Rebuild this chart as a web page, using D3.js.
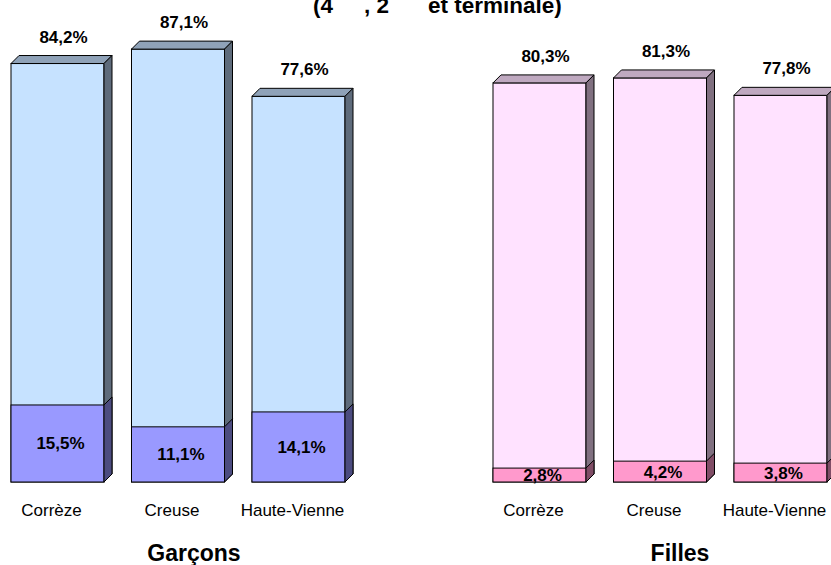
<!DOCTYPE html>
<html>
<head>
<meta charset="utf-8">
<script src="https://cdn.jsdelivr.net/npm/d3@7"></script>
<style>
  html, body { margin: 0; padding: 0; background: #fff; }
  svg { display: block; font-family: Arial, "Liberation Sans", sans-serif; }
</style>
</head>
<body>
<svg id="chart" width="831" height="565"></svg>
<script>
const categories = ["Corrèze", "Creuse", "Haute-Vienne"];
const garconsTotal = [84.2, 87.1, 77.6];
const garconsPart = [15.5, 11.1, 14.1];
const fillesTotal = [80.3, 81.3, 77.8];
const fillesPart = [2.8, 4.2, 3.8];
const panelTitles = ["Garçons", "Filles"];
const titleParts = ["(4", ", 2", "et terminale)"];

const fmt = v => d3.format(".1f")(v).replace(".", ",") + "%";

const svg = d3.select("#chart");
const baseY = 482;
const y = d3.scaleLinear().domain([0, 100]).range([baseY, -15]);
const DX = 8, DY = 8;

// title (partially cut off at the top, as in the reference)
const t = svg.append("text").attr("y", 13).attr("font-size", 22.5).attr("font-weight", "bold").attr("fill", "#000");
const titleX = [313, 364, 428];
titleParts.forEach((p, i) => t.append("tspan").attr("x", titleX[i]).text(p));

const panels = [
  { title: panelTitles[0], total: garconsTotal, part: garconsPart, range: [11, 345], titleX: 194,
    c: { front: "#C6E2FF", top: "#8FA2B8", side: "#5E6B7B", pFront: "#9999FF", pSide: "#4C4C80" } },
  { title: panelTitles[1], total: fillesTotal, part: fillesPart, range: [493, 827], titleX: 680,
    c: { front: "#FFE2FF", top: "#BFA9C0", side: "#807080", pFront: "#FF99CC", pSide: "#804D66" } }
];

const pts = a => a.map(p => p.join(",")).join(" ");

panels.forEach(P => {
  const x = d3.scaleBand().domain(categories).range(P.range).paddingInner(0.2282).paddingOuter(0);
  const w = x.bandwidth();
  const g = svg.append("g");

  categories.forEach((cat, i) => {
    const x0 = x(cat), x1 = x0 + w;
    const yt = y(P.total[i]), yp = y(P.part[i]), yb = y(0);
    // back (total) bar
    g.append("rect").attr("x", x0).attr("y", yt).attr("width", w).attr("height", yb - yt)
      .attr("fill", P.c.front).attr("stroke", "#000").attr("stroke-width", 1);
    g.append("polygon").attr("points", pts([[x0, yt], [x0 + DX, yt - DY], [x1 + DX, yt - DY], [x1, yt]]))
      .attr("fill", P.c.top).attr("stroke", "#000").attr("stroke-width", 1);
    g.append("polygon").attr("points", pts([[x1, yt], [x1 + DX, yt - DY], [x1 + DX, yb - DY], [x1, yb]]))
      .attr("fill", P.c.side).attr("stroke", "#000").attr("stroke-width", 1);
    // front (part) bar
    g.append("rect").attr("x", x0).attr("y", yp).attr("width", w).attr("height", yb - yp)
      .attr("fill", P.c.pFront).attr("stroke", "#000").attr("stroke-width", 1);
    g.append("polygon").attr("points", pts([[x1, yp], [x1 + DX, yp - DY], [x1 + DX, yb - DY], [x1, yb]]))
      .attr("fill", P.c.pSide).attr("stroke", "#000").attr("stroke-width", 1);

    // labels
    g.append("text").attr("x", x0 + w / 2 + 6).attr("y", yt - 21).attr("text-anchor", "middle")
      .attr("font-size", 17).attr("font-weight", "bold").text(fmt(P.total[i]));
    g.append("text").attr("x", x0 + w / 2 + 3).attr("y", (yp + yb) / 2 + 6).attr("text-anchor", "middle")
      .attr("font-size", 17).attr("font-weight", "bold").text(fmt(P.part[i]));
    g.append("text").attr("x", x0 + w / 2 - 6).attr("y", 516).attr("text-anchor", "middle")
      .attr("font-size", 17).text(cat);
  });

  g.append("text").attr("x", P.titleX).attr("y", 561).attr("text-anchor", "middle")
    .attr("font-size", 23).attr("font-weight", "bold").text(P.title);
});
</script>
</body>
</html>
